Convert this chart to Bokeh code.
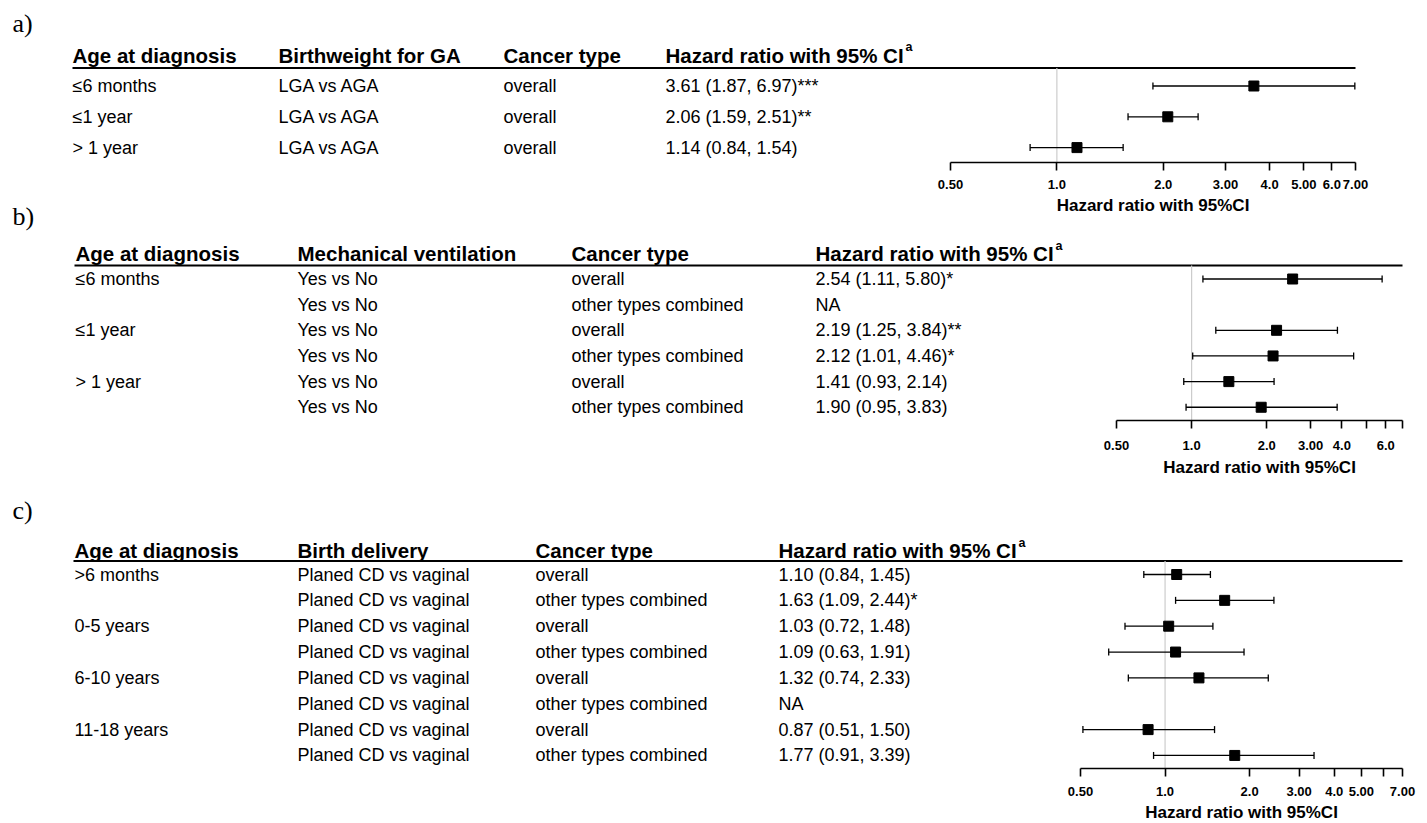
import math
from bokeh.plotting import figure
from bokeh.layouts import column
from bokeh.models import Range1d, LinearScale, FixedTicker
from bokeh.core.properties import value
from bokeh.embed import file_html
from bokeh.resources import INLINE

# ------------------------------------------------------------------ data
tick_values = [0.5, 1.0, 2.0, 3.0, 4.0, 5.0, 6.0, 7.0]
axis_title = "Hazard ratio with 95%CI"
hr_header = "Hazard ratio with 95% CI"

# panel a
a_headers = ["Age at diagnosis", "Birthweight for GA", "Cancer type"]
a_age = ["≤6 months", "≤1 year", "> 1 year"]
a_exposure = ["LGA vs AGA", "LGA vs AGA", "LGA vs AGA"]
a_cancer = ["overall", "overall", "overall"]
a_hr = [3.61, 2.06, 1.14]
a_lo = [1.87, 1.59, 0.84]
a_hi = [6.97, 2.51, 1.54]
a_sig = ["***", "**", ""]
a_tick_labels = ["0.50", "1.0", "2.0", "3.00", "4.0", "5.00", "6.0", "7.00"]

# panel b
b_headers = ["Age at diagnosis", "Mechanical ventilation", "Cancer type"]
b_age = ["≤6 months", "", "≤1 year", "", "> 1 year", ""]
b_exposure = ["Yes vs No", "Yes vs No", "Yes vs No", "Yes vs No", "Yes vs No", "Yes vs No"]
b_cancer = ["overall", "other types combined", "overall", "other types combined",
            "overall", "other types combined"]
b_hr = [2.54, None, 2.19, 2.12, 1.41, 1.90]
b_lo = [1.11, None, 1.25, 1.01, 0.93, 0.95]
b_hi = [5.80, None, 3.84, 4.46, 2.14, 3.83]
b_sig = ["*", "", "**", "*", "", ""]
b_tick_labels = ["0.50", "1.0", "2.0", "3.00", "4.0", "", "6.0", ""]

# panel c
c_headers = ["Age at diagnosis", "Birth delivery", "Cancer type"]
c_age = [">6 months", "", "0-5 years", "", "6-10 years", "", "11-18 years", ""]
c_exposure = ["Planed CD vs vaginal"] * 8
c_cancer = ["overall", "other types combined", "overall", "other types combined",
            "overall", "other types combined", "overall", "other types combined"]
c_hr = [1.10, 1.63, 1.03, 1.09, 1.32, None, 0.87, 1.77]
c_lo = [0.84, 1.09, 0.72, 0.63, 0.74, None, 0.51, 0.91]
c_hi = [1.45, 2.44, 1.48, 1.91, 2.33, None, 1.50, 3.39]
c_sig = ["", "*", "", "", "", "", "", ""]
c_tick_labels = ["0.50", "1.0", "2.0", "3.00", "4.0", "5.00", "", "7.00"]

# ------------------------------------------------------------------ layout (page pixels)
FIG_W = 1424
LEFT = 0
FRAME_R = 1418
SANS = "Liberation Sans"
SERIF = "Liberation Serif"
HEAD_SIZE = "20.5px"
BODY_SIZE = "18px"
TITLE_SIZE = "17px"
TICK_SIZE = "13px"

panels = [
    dict(tag="a)", headers=a_headers, age=a_age, exposure=a_exposure, cancer=a_cancer,
         hr=a_hr, lo=a_lo, hi=a_hi, sig=a_sig, ticks=a_tick_labels,
         top=0, bottom=197, axis_y=162, row0=85.5, step=30.8, header_y=54.5, line_y=67.5,
         tag_base=23, sup=(905, 46), cols=[72, 278, 503, 665], line_x=(72, 1355),
         px05=950, px7=1355, title_y=205, standoff=9),
    dict(tag="b)", headers=b_headers, age=b_age, exposure=b_exposure, cancer=b_cancer,
         hr=b_hr, lo=b_lo, hi=b_hi, sig=b_sig, ticks=b_tick_labels,
         top=197, bottom=458, axis_y=420, row0=278.5, step=25.65, header_y=253, line_y=265,
         tag_base=216, sup=(1055, 245), cols=[75, 297, 571, 815], line_x=(74, 1402),
         px05=1116, px7=1402, title_y=466.5, standoff=12),
    dict(tag="c)", headers=c_headers, age=c_age, exposure=c_exposure, cancer=c_cancer,
         hr=c_hr, lo=c_lo, hi=c_hi, sig=c_sig, ticks=c_tick_labels,
         top=458, bottom=803, axis_y=768, row0=574, step=25.85, header_y=550, line_y=560.5,
         tag_base=510, sup=(1018, 542), cols=[74, 297, 535, 778], line_x=(73, 1402),
         px05=1080, px7=1402, title_y=812, standoff=10),
]
FOOTER = (803, 823)


def add_text(p, xs, ys, texts, size, bold=False, font=SANS, baseline="middle", align="left"):
    p.text(x=xs, y=ys, text=texts, x_range_name="px",
           text_font=value(font), text_font_size=value(size),
           text_font_style="bold" if bold else "normal",
           text_align=align, text_baseline=baseline, text_color="black")


def base_fig(height, y_start, y_end, hr_start, hr_end, bottom_border):
    p = figure(width=FIG_W, height=height,
               x_axis_type="log", x_range=Range1d(hr_start, hr_end),
               y_range=Range1d(y_start, y_end),
               output_backend="svg", toolbar_location=None,
               min_border_left=0, min_border_top=0,
               min_border_right=FIG_W - (FRAME_R - LEFT),
               min_border_bottom=bottom_border,
               y_axis_location=None, outline_line_color=None,
               background_fill_color="white", border_fill_color="white")
    p.grid.visible = False
    p.extra_x_ranges = {"px": Range1d(LEFT, FRAME_R)}
    p.extra_x_scales = {"px": LinearScale()}
    return p


figs = []
for s in panels:
    r0, step = s["row0"], s["step"]

    def to_row(py, r0=r0, step=step):
        return (py - r0) / step

    k = (s["px7"] - s["px05"]) / math.log(14.0)
    hr_start = 0.5 * math.exp((LEFT - s["px05"]) / k)
    hr_end = 0.5 * math.exp((FRAME_R - s["px05"]) / k)

    p = base_fig(s["bottom"] - s["top"], to_row(s["axis_y"]), to_row(s["top"]),
                 hr_start, hr_end, s["bottom"] - s["axis_y"])

    ax = p.xaxis[0]
    ax.bounds = (0.5, 7.0)
    ax.ticker = FixedTicker(ticks=tick_values, minor_ticks=[])
    ax.major_label_overrides = {v: lab for v, lab in zip(tick_values, s["ticks"])}
    ax.axis_line_color = "black"
    ax.axis_line_width = 1.6
    ax.major_tick_line_color = "black"
    ax.major_tick_line_width = 1.6
    ax.major_tick_out = 8
    ax.major_tick_in = 0
    ax.minor_tick_line_color = None
    ax.major_label_text_font = SANS
    ax.major_label_text_font_style = "bold"
    ax.major_label_text_font_size = TICK_SIZE
    ax.major_label_text_color = "black"
    ax.major_label_standoff = s["standoff"]
    ax.axis_label = None

    n = len(s["age"])
    rows = list(range(n))

    # panel tag
    add_text(p, [12], [to_row(s["tag_base"])], [s["tag"]], "26px", font=SERIF, baseline="alphabetic")
    # headers
    hy = to_row(s["header_y"])
    add_text(p, s["cols"], [hy] * 4, s["headers"] + [hr_header], HEAD_SIZE, bold=True)
    add_text(p, [s["sup"][0]], [to_row(s["sup"][1])], ["a"], "12.5px", bold=True)
    ly = to_row(s["line_y"])
    p.segment(x0=[s["line_x"][0]], x1=[s["line_x"][1]], y0=[ly], y1=[ly],
              x_range_name="px", line_color="black", line_width=2)

    # table body
    hr_text = ["NA" if h is None else f"{h:.2f} ({l:.2f}, {u:.2f}){g}"
               for h, l, u, g in zip(s["hr"], s["lo"], s["hi"], s["sig"])]
    for x, col in zip(s["cols"], [s["age"], s["exposure"], s["cancer"], hr_text]):
        add_text(p, [x] * n, rows, col, BODY_SIZE)

    # reference line at HR = 1
    p.segment(x0=[1.0], x1=[1.0], y0=[ly], y1=[to_row(s["axis_y"])],
              line_color="#cccccc", line_width=1.2)

    # forest marks
    idx = [i for i, h in enumerate(s["hr"]) if h is not None]
    hr = [s["hr"][i] for i in idx]
    lo = [s["lo"][i] for i in idx]
    hi = [s["hi"][i] for i in idx]
    p.segment(x0=lo, x1=hi, y0=idx, y1=idx, line_color="black", line_width=1.3)
    p.scatter(x=lo + hi, y=idx + idx, marker="dash", angle=math.pi / 2, size=7,
              line_color="black", line_width=1.3)
    p.scatter(x=hr, y=idx, marker="square", size=10, fill_color="black", line_color="black")

    s["to_row"] = to_row
    s["fig"] = p
    figs.append(p)

# footer strip holding the last axis title
f_top, f_bot = FOOTER
footer = base_fig(f_bot - f_top, float(f_bot), float(f_top), 0.1, 10.0, 0)
footer.xaxis.visible = False

# axis titles: each one is written into the strip directly below its axis
for i, s in enumerate(panels):
    cx = (s["px05"] + s["px7"]) / 2.0
    if i + 1 < len(panels):
        host = panels[i + 1]
        hp, hy = host["fig"], host["to_row"](s["title_y"])
    else:
        hp, hy = footer, s["title_y"]
    hp.text(x=[cx], y=[hy], text=[axis_title], x_range_name="px",
            text_font=value(SANS), text_font_size=value(TITLE_SIZE), text_font_style="bold",
            text_align="center", text_baseline="middle", text_color="black")

figs.append(footer)
layout = column(*figs, spacing=0)
open("out.html", "w").write(file_html(layout, INLINE))
